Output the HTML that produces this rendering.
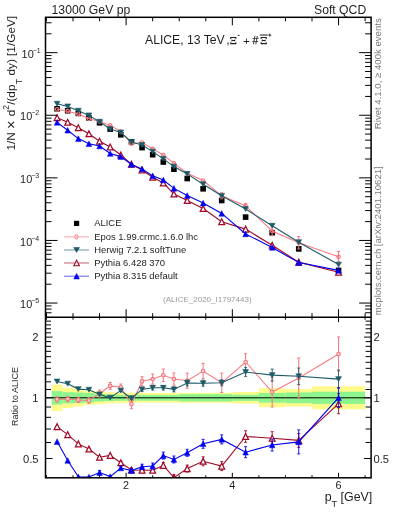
<!DOCTYPE html>
<html><head><meta charset="utf-8"><style>
html,body{margin:0;padding:0;background:#fff;width:393px;height:512px;overflow:hidden}
svg{display:block}
text{font-family:"Liberation Sans",sans-serif}
</style></head><body>
<svg width="393" height="512" viewBox="0 0 393 512">
<defs><clipPath id="cu"><rect x="45.5" y="17.3" width="325.6" height="299.9"/></clipPath><clipPath id="cr"><rect x="45.5" y="317.2" width="325.6" height="160.60000000000002"/></clipPath></defs><g clip-path="url(#cr)"><rect x="51.77" y="384.60" width="10.62" height="26.40" fill="#fffa8c"/><rect x="62.39" y="387.60" width="10.62" height="20.40" fill="#fffa8c"/><rect x="73.01" y="389.00" width="10.62" height="17.60" fill="#fffa8c"/><rect x="83.63" y="390.70" width="10.62" height="14.20" fill="#fffa8c"/><rect x="94.25" y="391.40" width="10.62" height="12.80" fill="#fffa8c"/><rect x="104.88" y="392.20" width="10.62" height="11.20" fill="#fffa8c"/><rect x="115.50" y="392.60" width="10.62" height="10.40" fill="#fffa8c"/><rect x="126.12" y="392.80" width="10.62" height="10.00" fill="#fffa8c"/><rect x="136.74" y="392.90" width="10.62" height="9.80" fill="#fffa8c"/><rect x="147.36" y="392.90" width="10.62" height="9.80" fill="#fffa8c"/><rect x="157.99" y="392.90" width="10.62" height="9.80" fill="#fffa8c"/><rect x="168.61" y="392.90" width="10.62" height="9.80" fill="#fffa8c"/><rect x="179.23" y="392.80" width="15.93" height="10.00" fill="#fffa8c"/><rect x="195.16" y="392.80" width="15.93" height="10.00" fill="#fffa8c"/><rect x="211.10" y="392.80" width="21.24" height="10.00" fill="#fffa8c"/><rect x="232.34" y="392.00" width="26.56" height="11.60" fill="#fffa8c"/><rect x="258.90" y="388.30" width="26.55" height="19.00" fill="#fffa8c"/><rect x="285.45" y="389.00" width="26.56" height="17.60" fill="#fffa8c"/><rect x="312.01" y="386.30" width="53.11" height="23.00" fill="#fffa8c"/><rect x="51.77" y="391.10" width="10.62" height="13.40" fill="#8ef48e"/><rect x="62.39" y="392.20" width="10.62" height="11.20" fill="#8ef48e"/><rect x="73.01" y="392.50" width="10.62" height="10.60" fill="#8ef48e"/><rect x="83.63" y="393.00" width="10.62" height="9.60" fill="#8ef48e"/><rect x="94.25" y="394.10" width="10.62" height="7.40" fill="#8ef48e"/><rect x="104.88" y="394.50" width="10.62" height="6.60" fill="#8ef48e"/><rect x="115.50" y="394.80" width="10.62" height="6.00" fill="#8ef48e"/><rect x="126.12" y="394.90" width="10.62" height="5.80" fill="#8ef48e"/><rect x="136.74" y="394.90" width="10.62" height="5.80" fill="#8ef48e"/><rect x="147.36" y="394.90" width="10.62" height="5.80" fill="#8ef48e"/><rect x="157.99" y="394.90" width="10.62" height="5.80" fill="#8ef48e"/><rect x="168.61" y="394.90" width="10.62" height="5.80" fill="#8ef48e"/><rect x="179.23" y="394.10" width="15.93" height="7.40" fill="#8ef48e"/><rect x="195.16" y="394.10" width="15.93" height="7.40" fill="#8ef48e"/><rect x="211.10" y="394.10" width="21.24" height="7.40" fill="#8ef48e"/><rect x="232.34" y="394.70" width="26.56" height="6.20" fill="#8ef48e"/><rect x="258.90" y="392.90" width="26.55" height="9.80" fill="#8ef48e"/><rect x="285.45" y="392.40" width="26.56" height="10.80" fill="#8ef48e"/><rect x="312.01" y="391.70" width="53.11" height="12.20" fill="#8ef48e"/><line x1="45.5" y1="397.8" x2="371.1" y2="397.8" stroke="#000" stroke-width="1.0"/></g><g clip-path="url(#cr)"><path d="M57.08 399.40 L67.70 399.00 L78.32 399.90 L88.94 400.50 L99.57 393.50 L110.19 385.90 L120.81 387.20 L131.43 404.20 L142.05 381.30 L152.68 379.10 L163.30 375.20 L173.92 379.10 L187.20 380.70 L203.13 371.00 L221.72 382.80 L245.62 362.00 L272.17 392.00 L298.73 378.00 L338.56 354.00" fill="none" stroke="#f87b82" stroke-width="1.05"/><path d="M57.08 396.80V402.00M55.58 396.80H58.58M55.58 402.00H58.58" stroke="#f8747c" stroke-width="1.0" fill="none"/><path d="M67.70 396.40V401.60M66.20 396.40H69.20M66.20 401.60H69.20" stroke="#f8747c" stroke-width="1.0" fill="none"/><path d="M78.32 397.30V402.50M76.82 397.30H79.82M76.82 402.50H79.82" stroke="#f8747c" stroke-width="1.0" fill="none"/><path d="M88.94 397.70V403.30M87.44 397.70H90.44M87.44 403.30H90.44" stroke="#f8747c" stroke-width="1.0" fill="none"/><path d="M99.57 390.00V397.00M98.07 390.00H101.07M98.07 397.00H101.07" stroke="#f8747c" stroke-width="1.0" fill="none"/><path d="M110.19 382.50V389.30M108.69 382.50H111.69M108.69 389.30H111.69" stroke="#f8747c" stroke-width="1.0" fill="none"/><path d="M120.81 384.00V390.40M119.31 384.00H122.31M119.31 390.40H122.31" stroke="#f8747c" stroke-width="1.0" fill="none"/><path d="M131.43 399.70V408.70M129.93 399.70H132.93M129.93 408.70H132.93" stroke="#f8747c" stroke-width="1.0" fill="none"/><path d="M142.05 376.70V385.90M140.55 376.70H143.55M140.55 385.90H143.55" stroke="#f8747c" stroke-width="1.0" fill="none"/><path d="M152.68 374.10V384.10M151.18 374.10H154.18M151.18 384.10H154.18" stroke="#f8747c" stroke-width="1.0" fill="none"/><path d="M163.30 369.00V381.40M161.80 369.00H164.80M161.80 381.40H164.80" stroke="#f8747c" stroke-width="1.0" fill="none"/><path d="M173.92 373.00V385.20M172.42 373.00H175.42M172.42 385.20H175.42" stroke="#f8747c" stroke-width="1.0" fill="none"/><path d="M187.20 373.10V388.30M185.70 373.10H188.70M185.70 388.30H188.70" stroke="#f8747c" stroke-width="1.0" fill="none"/><path d="M203.13 363.40V378.60M201.63 363.40H204.63M201.63 378.60H204.63" stroke="#f8747c" stroke-width="1.0" fill="none"/><path d="M221.72 373.10V392.50M220.22 373.10H223.22M220.22 392.50H223.22" stroke="#f8747c" stroke-width="1.0" fill="none"/><path d="M245.62 353.70V370.30M244.12 353.70H247.12M244.12 370.30H247.12" stroke="#f8747c" stroke-width="1.0" fill="none"/><path d="M272.17 377.00V407.00M270.67 377.00H273.67M270.67 407.00H273.67" stroke="#f8747c" stroke-width="1.0" fill="none"/><path d="M298.73 358.00V398.00M297.23 358.00H300.23M297.23 398.00H300.23" stroke="#f8747c" stroke-width="1.0" fill="none"/><path d="M338.56 337.00V371.00M337.06 337.00H340.06M337.06 371.00H340.06" stroke="#f8747c" stroke-width="1.0" fill="none"/><circle cx="57.08" cy="399.40" r="1.75" fill="#fdd4d6" stroke="#f8747c" stroke-width="1.15"/><circle cx="67.70" cy="399.00" r="1.75" fill="#fdd4d6" stroke="#f8747c" stroke-width="1.15"/><circle cx="78.32" cy="399.90" r="1.75" fill="#fdd4d6" stroke="#f8747c" stroke-width="1.15"/><circle cx="88.94" cy="400.50" r="1.75" fill="#fdd4d6" stroke="#f8747c" stroke-width="1.15"/><circle cx="99.57" cy="393.50" r="1.75" fill="#fdd4d6" stroke="#f8747c" stroke-width="1.15"/><circle cx="110.19" cy="385.90" r="1.75" fill="#fdd4d6" stroke="#f8747c" stroke-width="1.15"/><circle cx="120.81" cy="387.20" r="1.75" fill="#fdd4d6" stroke="#f8747c" stroke-width="1.15"/><circle cx="131.43" cy="404.20" r="1.75" fill="#fdd4d6" stroke="#f8747c" stroke-width="1.15"/><circle cx="142.05" cy="381.30" r="1.75" fill="#fdd4d6" stroke="#f8747c" stroke-width="1.15"/><circle cx="152.68" cy="379.10" r="1.75" fill="#fdd4d6" stroke="#f8747c" stroke-width="1.15"/><circle cx="163.30" cy="375.20" r="1.75" fill="#fdd4d6" stroke="#f8747c" stroke-width="1.15"/><circle cx="173.92" cy="379.10" r="1.75" fill="#fdd4d6" stroke="#f8747c" stroke-width="1.15"/><circle cx="187.20" cy="380.70" r="1.75" fill="#fdd4d6" stroke="#f8747c" stroke-width="1.15"/><circle cx="203.13" cy="371.00" r="1.75" fill="#fdd4d6" stroke="#f8747c" stroke-width="1.15"/><circle cx="221.72" cy="382.80" r="1.75" fill="#fdd4d6" stroke="#f8747c" stroke-width="1.15"/><circle cx="245.62" cy="362.00" r="1.75" fill="#fdd4d6" stroke="#f8747c" stroke-width="1.15"/><circle cx="272.17" cy="392.00" r="1.75" fill="#fdd4d6" stroke="#f8747c" stroke-width="1.15"/><circle cx="298.73" cy="378.00" r="1.75" fill="#fdd4d6" stroke="#f8747c" stroke-width="1.15"/><circle cx="338.56" cy="354.00" r="1.75" fill="#fdd4d6" stroke="#f8747c" stroke-width="1.15"/><path d="M57.08 381.50 L67.70 383.70 L78.32 389.10 L88.94 389.70 L99.57 394.40 L110.19 397.70 L120.81 390.60 L131.43 398.20 L142.05 389.40 L152.68 387.80 L163.30 387.80 L173.92 389.40 L187.20 383.00 L203.13 383.20 L221.72 382.80 L245.62 372.00 L272.17 375.10 L298.73 376.30 L338.56 379.10" fill="none" stroke="#1d5b68" stroke-width="1.1"/><path d="M131.43 396.70V399.70M129.93 396.70H132.93M129.93 399.70H132.93" stroke="#1d5b68" stroke-width="0.9" fill="none"/><path d="M142.05 387.20V391.60M140.55 387.20H143.55M140.55 391.60H143.55" stroke="#1d5b68" stroke-width="0.9" fill="none"/><path d="M152.68 385.60V390.00M151.18 385.60H154.18M151.18 390.00H154.18" stroke="#1d5b68" stroke-width="0.9" fill="none"/><path d="M163.30 385.60V390.00M161.80 385.60H164.80M161.80 390.00H164.80" stroke="#1d5b68" stroke-width="0.9" fill="none"/><path d="M173.92 386.90V391.90M172.42 386.90H175.42M172.42 391.90H175.42" stroke="#1d5b68" stroke-width="0.9" fill="none"/><path d="M187.20 380.00V386.00M185.70 380.00H188.70M185.70 386.00H188.70" stroke="#1d5b68" stroke-width="0.9" fill="none"/><path d="M203.13 380.20V386.20M201.63 380.20H204.63M201.63 386.20H204.63" stroke="#1d5b68" stroke-width="0.9" fill="none"/><path d="M221.72 379.80V385.80M220.22 379.80H223.22M220.22 385.80H223.22" stroke="#1d5b68" stroke-width="0.9" fill="none"/><path d="M245.62 367.60V376.40M244.12 367.60H247.12M244.12 376.40H247.12" stroke="#1d5b68" stroke-width="0.9" fill="none"/><path d="M272.17 369.10V381.10M270.67 369.10H273.67M270.67 381.10H273.67" stroke="#1d5b68" stroke-width="0.9" fill="none"/><path d="M298.73 368.00V384.60M297.23 368.00H300.23M297.23 384.60H300.23" stroke="#1d5b68" stroke-width="0.9" fill="none"/><path d="M338.56 370.10V388.10M337.06 370.10H340.06M337.06 388.10H340.06" stroke="#1d5b68" stroke-width="0.9" fill="none"/><path d="M54.18 379.04L59.98 379.04L57.08 383.96Z" fill="#1d5b68" stroke="#1d5b68" stroke-width="0.6"/><path d="M64.80 381.24L70.60 381.24L67.70 386.16Z" fill="#1d5b68" stroke="#1d5b68" stroke-width="0.6"/><path d="M75.42 386.64L81.22 386.64L78.32 391.56Z" fill="#1d5b68" stroke="#1d5b68" stroke-width="0.6"/><path d="M86.04 387.24L91.84 387.24L88.94 392.16Z" fill="#1d5b68" stroke="#1d5b68" stroke-width="0.6"/><path d="M96.67 391.94L102.47 391.94L99.57 396.86Z" fill="#1d5b68" stroke="#1d5b68" stroke-width="0.6"/><path d="M107.29 395.24L113.09 395.24L110.19 400.16Z" fill="#1d5b68" stroke="#1d5b68" stroke-width="0.6"/><path d="M117.91 388.14L123.71 388.14L120.81 393.06Z" fill="#1d5b68" stroke="#1d5b68" stroke-width="0.6"/><path d="M128.53 395.74L134.33 395.74L131.43 400.66Z" fill="#1d5b68" stroke="#1d5b68" stroke-width="0.6"/><path d="M139.15 386.94L144.95 386.94L142.05 391.86Z" fill="#1d5b68" stroke="#1d5b68" stroke-width="0.6"/><path d="M149.78 385.34L155.58 385.34L152.68 390.26Z" fill="#1d5b68" stroke="#1d5b68" stroke-width="0.6"/><path d="M160.40 385.34L166.20 385.34L163.30 390.26Z" fill="#1d5b68" stroke="#1d5b68" stroke-width="0.6"/><path d="M171.02 386.94L176.82 386.94L173.92 391.86Z" fill="#1d5b68" stroke="#1d5b68" stroke-width="0.6"/><path d="M184.30 380.54L190.10 380.54L187.20 385.46Z" fill="#1d5b68" stroke="#1d5b68" stroke-width="0.6"/><path d="M200.23 380.74L206.03 380.74L203.13 385.66Z" fill="#1d5b68" stroke="#1d5b68" stroke-width="0.6"/><path d="M218.82 380.34L224.62 380.34L221.72 385.26Z" fill="#1d5b68" stroke="#1d5b68" stroke-width="0.6"/><path d="M242.72 369.54L248.52 369.54L245.62 374.46Z" fill="#1d5b68" stroke="#1d5b68" stroke-width="0.6"/><path d="M269.27 372.64L275.07 372.64L272.17 377.56Z" fill="#1d5b68" stroke="#1d5b68" stroke-width="0.6"/><path d="M295.83 373.84L301.63 373.84L298.73 378.76Z" fill="#1d5b68" stroke="#1d5b68" stroke-width="0.6"/><path d="M335.66 376.64L341.46 376.64L338.56 381.56Z" fill="#1d5b68" stroke="#1d5b68" stroke-width="0.6"/><path d="M57.08 426.60 L67.70 434.60 L78.32 443.90 L88.94 449.00 L99.57 457.20 L110.19 455.40 L120.81 462.80 L131.43 470.00 L142.05 470.20 L152.68 470.20 L163.30 465.40 L173.92 477.60 L187.20 468.60 L203.13 461.30 L221.72 466.10 L245.62 436.50 L272.17 438.20 L298.73 440.40 L338.56 403.70" fill="none" stroke="#a00a28" stroke-width="1.1"/><path d="M120.81 461.30V464.30M119.31 461.30H122.31M119.31 464.30H122.31" stroke="#a00a28" stroke-width="0.9" fill="none"/><path d="M131.43 468.00V472.00M129.93 468.00H132.93M129.93 472.00H132.93" stroke="#a00a28" stroke-width="0.9" fill="none"/><path d="M142.05 467.70V472.70M140.55 467.70H143.55M140.55 472.70H143.55" stroke="#a00a28" stroke-width="0.9" fill="none"/><path d="M152.68 467.70V472.70M151.18 467.70H154.18M151.18 472.70H154.18" stroke="#a00a28" stroke-width="0.9" fill="none"/><path d="M163.30 462.40V468.40M161.80 462.40H164.80M161.80 468.40H164.80" stroke="#a00a28" stroke-width="0.9" fill="none"/><path d="M173.92 474.60V480.60M172.42 474.60H175.42M172.42 480.60H175.42" stroke="#a00a28" stroke-width="0.9" fill="none"/><path d="M187.20 465.10V472.10M185.70 465.10H188.70M185.70 472.10H188.70" stroke="#a00a28" stroke-width="0.9" fill="none"/><path d="M203.13 456.80V465.80M201.63 456.80H204.63M201.63 465.80H204.63" stroke="#a00a28" stroke-width="0.9" fill="none"/><path d="M221.72 461.60V470.60M220.22 461.60H223.22M220.22 470.60H223.22" stroke="#a00a28" stroke-width="0.9" fill="none"/><path d="M245.62 430.70V442.30M244.12 430.70H247.12M244.12 442.30H247.12" stroke="#a00a28" stroke-width="0.9" fill="none"/><path d="M272.17 431.70V444.70M270.67 431.70H273.67M270.67 444.70H273.67" stroke="#a00a28" stroke-width="0.9" fill="none"/><path d="M298.73 433.40V447.40M297.23 433.40H300.23M297.23 447.40H300.23" stroke="#a00a28" stroke-width="0.9" fill="none"/><path d="M338.56 393.70V413.70M337.06 393.70H340.06M337.06 413.70H340.06" stroke="#a00a28" stroke-width="0.9" fill="none"/><path d="M54.18 429.50L59.98 429.50L57.08 423.70Z" fill="#fff" stroke="#a00a28" stroke-width="1.25"/><path d="M64.80 437.50L70.60 437.50L67.70 431.70Z" fill="#fff" stroke="#a00a28" stroke-width="1.25"/><path d="M75.42 446.80L81.22 446.80L78.32 441.00Z" fill="#fff" stroke="#a00a28" stroke-width="1.25"/><path d="M86.04 451.90L91.84 451.90L88.94 446.10Z" fill="#fff" stroke="#a00a28" stroke-width="1.25"/><path d="M96.67 460.10L102.47 460.10L99.57 454.30Z" fill="#fff" stroke="#a00a28" stroke-width="1.25"/><path d="M107.29 458.30L113.09 458.30L110.19 452.50Z" fill="#fff" stroke="#a00a28" stroke-width="1.25"/><path d="M117.91 465.70L123.71 465.70L120.81 459.90Z" fill="#fff" stroke="#a00a28" stroke-width="1.25"/><path d="M128.53 472.90L134.33 472.90L131.43 467.10Z" fill="#fff" stroke="#a00a28" stroke-width="1.25"/><path d="M139.15 473.10L144.95 473.10L142.05 467.30Z" fill="#fff" stroke="#a00a28" stroke-width="1.25"/><path d="M149.78 473.10L155.58 473.10L152.68 467.30Z" fill="#fff" stroke="#a00a28" stroke-width="1.25"/><path d="M160.40 468.30L166.20 468.30L163.30 462.50Z" fill="#fff" stroke="#a00a28" stroke-width="1.25"/><path d="M171.02 480.50L176.82 480.50L173.92 474.70Z" fill="#fff" stroke="#a00a28" stroke-width="1.25"/><path d="M184.30 471.50L190.10 471.50L187.20 465.70Z" fill="#fff" stroke="#a00a28" stroke-width="1.25"/><path d="M200.23 464.20L206.03 464.20L203.13 458.40Z" fill="#fff" stroke="#a00a28" stroke-width="1.25"/><path d="M218.82 469.00L224.62 469.00L221.72 463.20Z" fill="#fff" stroke="#a00a28" stroke-width="1.25"/><path d="M242.72 439.40L248.52 439.40L245.62 433.60Z" fill="#fff" stroke="#a00a28" stroke-width="1.25"/><path d="M269.27 441.10L275.07 441.10L272.17 435.30Z" fill="#fff" stroke="#a00a28" stroke-width="1.25"/><path d="M295.83 443.30L301.63 443.30L298.73 437.50Z" fill="#fff" stroke="#a00a28" stroke-width="1.25"/><path d="M335.66 406.60L341.46 406.60L338.56 400.80Z" fill="#fff" stroke="#a00a28" stroke-width="1.25"/><path d="M57.08 441.60 L67.70 460.50 L78.32 476.80 L88.94 477.00 L99.57 472.60 L110.19 476.60 L120.81 468.00 L131.43 470.60 L142.05 466.70 L152.68 466.00 L163.30 455.60 L173.92 459.50 L187.20 452.80 L203.13 443.80 L221.72 439.40 L245.62 452.20 L272.17 445.00 L298.73 441.90 L338.56 397.70" fill="none" stroke="#0000f0" stroke-width="1.1"/><path d="M99.57 470.60V474.60M98.07 470.60H101.07M98.07 474.60H101.07" stroke="#0000f0" stroke-width="0.9" fill="none"/><path d="M120.81 466.50V469.50M119.31 466.50H122.31M119.31 469.50H122.31" stroke="#0000f0" stroke-width="0.9" fill="none"/><path d="M131.43 468.60V472.60M129.93 468.60H132.93M129.93 472.60H132.93" stroke="#0000f0" stroke-width="0.9" fill="none"/><path d="M142.05 464.20V469.20M140.55 464.20H143.55M140.55 469.20H143.55" stroke="#0000f0" stroke-width="0.9" fill="none"/><path d="M152.68 463.00V469.00M151.18 463.00H154.18M151.18 469.00H154.18" stroke="#0000f0" stroke-width="0.9" fill="none"/><path d="M163.30 452.10V459.10M161.80 452.10H164.80M161.80 459.10H164.80" stroke="#0000f0" stroke-width="0.9" fill="none"/><path d="M173.92 456.00V463.00M172.42 456.00H175.42M172.42 463.00H175.42" stroke="#0000f0" stroke-width="0.9" fill="none"/><path d="M187.20 449.30V456.30M185.70 449.30H188.70M185.70 456.30H188.70" stroke="#0000f0" stroke-width="0.9" fill="none"/><path d="M203.13 439.30V448.30M201.63 439.30H204.63M201.63 448.30H204.63" stroke="#0000f0" stroke-width="0.9" fill="none"/><path d="M221.72 434.90V443.90M220.22 434.90H223.22M220.22 443.90H223.22" stroke="#0000f0" stroke-width="0.9" fill="none"/><path d="M245.62 446.70V457.70M244.12 446.70H247.12M244.12 457.70H247.12" stroke="#0000f0" stroke-width="0.9" fill="none"/><path d="M272.17 439.00V451.00M270.67 439.00H273.67M270.67 451.00H273.67" stroke="#0000f0" stroke-width="0.9" fill="none"/><path d="M298.73 429.90V453.90M297.23 429.90H300.23M297.23 453.90H300.23" stroke="#0000f0" stroke-width="0.9" fill="none"/><path d="M338.56 387.70V407.70M337.06 387.70H340.06M337.06 407.70H340.06" stroke="#0000f0" stroke-width="0.9" fill="none"/><path d="M54.28 444.40L59.88 444.40L57.08 438.80Z" fill="#0000f0" stroke="#0000f0" stroke-width="0.5"/><path d="M64.90 463.30L70.50 463.30L67.70 457.70Z" fill="#0000f0" stroke="#0000f0" stroke-width="0.5"/><path d="M75.52 479.60L81.12 479.60L78.32 474.00Z" fill="#0000f0" stroke="#0000f0" stroke-width="0.5"/><path d="M86.14 479.80L91.74 479.80L88.94 474.20Z" fill="#0000f0" stroke="#0000f0" stroke-width="0.5"/><path d="M96.77 475.40L102.37 475.40L99.57 469.80Z" fill="#0000f0" stroke="#0000f0" stroke-width="0.5"/><path d="M107.39 479.40L112.99 479.40L110.19 473.80Z" fill="#0000f0" stroke="#0000f0" stroke-width="0.5"/><path d="M118.01 470.80L123.61 470.80L120.81 465.20Z" fill="#0000f0" stroke="#0000f0" stroke-width="0.5"/><path d="M128.63 473.40L134.23 473.40L131.43 467.80Z" fill="#0000f0" stroke="#0000f0" stroke-width="0.5"/><path d="M139.25 469.50L144.85 469.50L142.05 463.90Z" fill="#0000f0" stroke="#0000f0" stroke-width="0.5"/><path d="M149.88 468.80L155.48 468.80L152.68 463.20Z" fill="#0000f0" stroke="#0000f0" stroke-width="0.5"/><path d="M160.50 458.40L166.10 458.40L163.30 452.80Z" fill="#0000f0" stroke="#0000f0" stroke-width="0.5"/><path d="M171.12 462.30L176.72 462.30L173.92 456.70Z" fill="#0000f0" stroke="#0000f0" stroke-width="0.5"/><path d="M184.40 455.60L190.00 455.60L187.20 450.00Z" fill="#0000f0" stroke="#0000f0" stroke-width="0.5"/><path d="M200.33 446.60L205.93 446.60L203.13 441.00Z" fill="#0000f0" stroke="#0000f0" stroke-width="0.5"/><path d="M218.92 442.20L224.52 442.20L221.72 436.60Z" fill="#0000f0" stroke="#0000f0" stroke-width="0.5"/><path d="M242.82 455.00L248.42 455.00L245.62 449.40Z" fill="#0000f0" stroke="#0000f0" stroke-width="0.5"/><path d="M269.37 447.80L274.97 447.80L272.17 442.20Z" fill="#0000f0" stroke="#0000f0" stroke-width="0.5"/><path d="M295.93 444.70L301.53 444.70L298.73 439.10Z" fill="#0000f0" stroke="#0000f0" stroke-width="0.5"/><path d="M335.76 400.50L341.36 400.50L338.56 394.90Z" fill="#0000f0" stroke="#0000f0" stroke-width="0.5"/></g><g clip-path="url(#cu)"><rect x="54.28" y="106.00" width="5.6" height="5.6" fill="#000"/><rect x="64.90" y="108.00" width="5.6" height="5.6" fill="#000"/><rect x="75.52" y="110.60" width="5.6" height="5.6" fill="#000"/><rect x="86.14" y="115.10" width="5.6" height="5.6" fill="#000"/><rect x="96.77" y="120.00" width="5.6" height="5.6" fill="#000"/><rect x="107.39" y="126.30" width="5.6" height="5.6" fill="#000"/><rect x="118.01" y="132.00" width="5.6" height="5.6" fill="#000"/><rect x="128.63" y="139.00" width="5.6" height="5.6" fill="#000"/><rect x="139.25" y="144.80" width="5.6" height="5.6" fill="#000"/><rect x="149.88" y="151.90" width="5.6" height="5.6" fill="#000"/><rect x="160.50" y="159.20" width="5.6" height="5.6" fill="#000"/><rect x="171.12" y="166.40" width="5.6" height="5.6" fill="#000"/><rect x="184.40" y="175.70" width="5.6" height="5.6" fill="#000"/><rect x="200.33" y="186.00" width="5.6" height="5.6" fill="#000"/><rect x="218.92" y="197.70" width="5.6" height="5.6" fill="#000"/><rect x="242.82" y="214.30" width="5.6" height="5.6" fill="#000"/><rect x="269.37" y="230.00" width="5.6" height="5.6" fill="#000"/><rect x="295.93" y="246.10" width="5.6" height="5.6" fill="#000"/><rect x="335.76" y="267.60" width="5.6" height="5.6" fill="#000"/><path d="M57.08 109.30 L67.70 111.17 L78.32 114.05 L88.94 118.74 L99.57 121.46 L110.19 125.40 L120.81 131.51 L131.43 143.79 L142.05 142.48 L152.68 148.89 L163.30 154.98 L173.92 163.39 L187.20 173.19 L203.13 180.48 L221.72 195.84 L245.62 205.98 L272.17 231.00 L298.73 242.75 L338.56 256.80" fill="none" stroke="#f87b82" stroke-width="1.05"/><path d="M221.72 192.83V198.85M220.22 192.83H223.22M220.22 198.85H223.22" stroke="#f8747c" stroke-width="1.0" fill="none"/><path d="M245.62 203.41V208.56M244.12 203.41H247.12M244.12 208.56H247.12" stroke="#f8747c" stroke-width="1.0" fill="none"/><path d="M272.17 226.34V235.66M270.67 226.34H273.67M270.67 235.66H273.67" stroke="#f8747c" stroke-width="1.0" fill="none"/><path d="M298.73 236.54V248.96M297.23 236.54H300.23M297.23 248.96H300.23" stroke="#f8747c" stroke-width="1.0" fill="none"/><path d="M338.56 251.52V262.08M337.06 251.52H340.06M337.06 262.08H340.06" stroke="#f8747c" stroke-width="1.0" fill="none"/><circle cx="57.08" cy="109.30" r="1.75" fill="none" stroke="#f8747c" stroke-width="1.15"/><circle cx="67.70" cy="111.17" r="1.75" fill="none" stroke="#f8747c" stroke-width="1.15"/><circle cx="78.32" cy="114.05" r="1.75" fill="none" stroke="#f8747c" stroke-width="1.15"/><circle cx="88.94" cy="118.74" r="1.75" fill="none" stroke="#f8747c" stroke-width="1.15"/><circle cx="99.57" cy="121.46" r="1.75" fill="none" stroke="#f8747c" stroke-width="1.15"/><circle cx="110.19" cy="125.40" r="1.75" fill="none" stroke="#f8747c" stroke-width="1.15"/><circle cx="120.81" cy="131.51" r="1.75" fill="none" stroke="#f8747c" stroke-width="1.15"/><circle cx="131.43" cy="143.79" r="1.75" fill="none" stroke="#f8747c" stroke-width="1.15"/><circle cx="142.05" cy="142.48" r="1.75" fill="none" stroke="#f8747c" stroke-width="1.15"/><circle cx="152.68" cy="148.89" r="1.75" fill="none" stroke="#f8747c" stroke-width="1.15"/><circle cx="163.30" cy="154.98" r="1.75" fill="none" stroke="#f8747c" stroke-width="1.15"/><circle cx="173.92" cy="163.39" r="1.75" fill="none" stroke="#f8747c" stroke-width="1.15"/><circle cx="187.20" cy="173.19" r="1.75" fill="none" stroke="#f8747c" stroke-width="1.15"/><circle cx="203.13" cy="180.48" r="1.75" fill="none" stroke="#f8747c" stroke-width="1.15"/><circle cx="221.72" cy="195.84" r="1.75" fill="none" stroke="#f8747c" stroke-width="1.15"/><circle cx="245.62" cy="205.98" r="1.75" fill="none" stroke="#f8747c" stroke-width="1.15"/><circle cx="272.17" cy="231.00" r="1.75" fill="none" stroke="#f8747c" stroke-width="1.15"/><circle cx="298.73" cy="242.75" r="1.75" fill="none" stroke="#f8747c" stroke-width="1.15"/><circle cx="338.56" cy="256.80" r="1.75" fill="none" stroke="#f8747c" stroke-width="1.15"/><path d="M57.08 103.74 L67.70 106.42 L78.32 110.70 L88.94 115.38 L99.57 121.74 L110.19 129.07 L120.81 132.56 L131.43 141.92 L142.05 144.99 L152.68 151.59 L163.30 158.89 L173.92 166.59 L187.20 173.90 L203.13 184.27 L221.72 195.84 L245.62 209.09 L272.17 225.75 L298.73 242.22 L338.56 264.59" fill="none" stroke="#1d5b68" stroke-width="1.1"/><path d="M54.18 101.27L59.98 101.27L57.08 106.20Z" fill="#1d5b68" stroke="#1d5b68" stroke-width="0.6"/><path d="M64.80 103.96L70.60 103.96L67.70 108.89Z" fill="#1d5b68" stroke="#1d5b68" stroke-width="0.6"/><path d="M75.42 108.23L81.22 108.23L78.32 113.16Z" fill="#1d5b68" stroke="#1d5b68" stroke-width="0.6"/><path d="M86.04 112.92L91.84 112.92L88.94 117.85Z" fill="#1d5b68" stroke="#1d5b68" stroke-width="0.6"/><path d="M96.67 119.28L102.47 119.28L99.57 124.21Z" fill="#1d5b68" stroke="#1d5b68" stroke-width="0.6"/><path d="M107.29 126.60L113.09 126.60L110.19 131.53Z" fill="#1d5b68" stroke="#1d5b68" stroke-width="0.6"/><path d="M117.91 130.10L123.71 130.10L120.81 135.03Z" fill="#1d5b68" stroke="#1d5b68" stroke-width="0.6"/><path d="M128.53 139.46L134.33 139.46L131.43 144.39Z" fill="#1d5b68" stroke="#1d5b68" stroke-width="0.6"/><path d="M139.15 142.53L144.95 142.53L142.05 147.46Z" fill="#1d5b68" stroke="#1d5b68" stroke-width="0.6"/><path d="M149.78 149.13L155.58 149.13L152.68 154.06Z" fill="#1d5b68" stroke="#1d5b68" stroke-width="0.6"/><path d="M160.40 156.43L166.20 156.43L163.30 161.36Z" fill="#1d5b68" stroke="#1d5b68" stroke-width="0.6"/><path d="M171.02 164.13L176.82 164.13L173.92 169.06Z" fill="#1d5b68" stroke="#1d5b68" stroke-width="0.6"/><path d="M184.30 171.44L190.10 171.44L187.20 176.37Z" fill="#1d5b68" stroke="#1d5b68" stroke-width="0.6"/><path d="M200.23 181.80L206.03 181.80L203.13 186.73Z" fill="#1d5b68" stroke="#1d5b68" stroke-width="0.6"/><path d="M218.82 193.38L224.62 193.38L221.72 198.31Z" fill="#1d5b68" stroke="#1d5b68" stroke-width="0.6"/><path d="M242.72 206.62L248.52 206.62L245.62 211.55Z" fill="#1d5b68" stroke="#1d5b68" stroke-width="0.6"/><path d="M269.27 223.29L275.07 223.29L272.17 228.22Z" fill="#1d5b68" stroke="#1d5b68" stroke-width="0.6"/><path d="M295.83 239.76L301.63 239.76L298.73 244.69Z" fill="#1d5b68" stroke="#1d5b68" stroke-width="0.6"/><path d="M335.66 262.13L341.46 262.13L338.56 267.06Z" fill="#1d5b68" stroke="#1d5b68" stroke-width="0.6"/><path d="M57.08 117.74 L67.70 122.23 L78.32 127.71 L88.94 133.80 L99.57 141.24 L110.19 146.99 L120.81 154.98 L131.43 164.22 L142.05 170.08 L152.68 177.18 L163.30 182.99 L173.92 193.98 L187.20 200.48 L203.13 208.52 L221.72 221.71 L245.62 229.12 L272.17 245.34 L298.73 262.13 L338.56 272.23" fill="none" stroke="#a00a28" stroke-width="1.1"/><path d="M54.18 120.64L59.98 120.64L57.08 114.84Z" fill="#fff" stroke="#a00a28" stroke-width="1.25"/><path d="M64.80 125.13L70.60 125.13L67.70 119.33Z" fill="#fff" stroke="#a00a28" stroke-width="1.25"/><path d="M75.42 130.61L81.22 130.61L78.32 124.81Z" fill="#fff" stroke="#a00a28" stroke-width="1.25"/><path d="M86.04 136.70L91.84 136.70L88.94 130.90Z" fill="#fff" stroke="#a00a28" stroke-width="1.25"/><path d="M96.67 144.14L102.47 144.14L99.57 138.34Z" fill="#fff" stroke="#a00a28" stroke-width="1.25"/><path d="M107.29 149.89L113.09 149.89L110.19 144.09Z" fill="#fff" stroke="#a00a28" stroke-width="1.25"/><path d="M117.91 157.88L123.71 157.88L120.81 152.08Z" fill="#fff" stroke="#a00a28" stroke-width="1.25"/><path d="M128.53 167.12L134.33 167.12L131.43 161.32Z" fill="#fff" stroke="#a00a28" stroke-width="1.25"/><path d="M139.15 172.98L144.95 172.98L142.05 167.18Z" fill="#fff" stroke="#a00a28" stroke-width="1.25"/><path d="M149.78 180.08L155.58 180.08L152.68 174.28Z" fill="#fff" stroke="#a00a28" stroke-width="1.25"/><path d="M160.40 185.89L166.20 185.89L163.30 180.09Z" fill="#fff" stroke="#a00a28" stroke-width="1.25"/><path d="M171.02 196.88L176.82 196.88L173.92 191.08Z" fill="#fff" stroke="#a00a28" stroke-width="1.25"/><path d="M184.30 203.38L190.10 203.38L187.20 197.58Z" fill="#fff" stroke="#a00a28" stroke-width="1.25"/><path d="M200.23 211.42L206.03 211.42L203.13 205.62Z" fill="#fff" stroke="#a00a28" stroke-width="1.25"/><path d="M218.82 224.61L224.62 224.61L221.72 218.81Z" fill="#fff" stroke="#a00a28" stroke-width="1.25"/><path d="M242.72 232.02L248.52 232.02L245.62 226.22Z" fill="#fff" stroke="#a00a28" stroke-width="1.25"/><path d="M269.27 248.24L275.07 248.24L272.17 242.44Z" fill="#fff" stroke="#a00a28" stroke-width="1.25"/><path d="M295.83 265.03L301.63 265.03L298.73 259.23Z" fill="#fff" stroke="#a00a28" stroke-width="1.25"/><path d="M335.66 275.13L341.46 275.13L338.56 269.33Z" fill="#fff" stroke="#a00a28" stroke-width="1.25"/><path d="M57.08 122.40 L67.70 130.27 L78.32 138.60 L88.94 143.70 L99.57 146.03 L110.19 153.50 L120.81 156.60 L131.43 164.41 L142.05 168.99 L152.68 175.88 L163.30 179.95 L173.92 188.36 L187.20 195.58 L203.13 203.08 L221.72 213.42 L245.62 233.99 L272.17 247.46 L298.73 262.59 L338.56 270.37" fill="none" stroke="#0000f0" stroke-width="1.1"/><path d="M54.28 125.20L59.88 125.20L57.08 119.60Z" fill="#0000f0" stroke="#0000f0" stroke-width="0.5"/><path d="M64.90 133.07L70.50 133.07L67.70 127.47Z" fill="#0000f0" stroke="#0000f0" stroke-width="0.5"/><path d="M75.52 141.40L81.12 141.40L78.32 135.80Z" fill="#0000f0" stroke="#0000f0" stroke-width="0.5"/><path d="M86.14 146.50L91.74 146.50L88.94 140.90Z" fill="#0000f0" stroke="#0000f0" stroke-width="0.5"/><path d="M96.77 148.83L102.37 148.83L99.57 143.23Z" fill="#0000f0" stroke="#0000f0" stroke-width="0.5"/><path d="M107.39 156.30L112.99 156.30L110.19 150.70Z" fill="#0000f0" stroke="#0000f0" stroke-width="0.5"/><path d="M118.01 159.40L123.61 159.40L120.81 153.80Z" fill="#0000f0" stroke="#0000f0" stroke-width="0.5"/><path d="M128.63 167.21L134.23 167.21L131.43 161.61Z" fill="#0000f0" stroke="#0000f0" stroke-width="0.5"/><path d="M139.25 171.79L144.85 171.79L142.05 166.19Z" fill="#0000f0" stroke="#0000f0" stroke-width="0.5"/><path d="M149.88 178.68L155.48 178.68L152.68 173.08Z" fill="#0000f0" stroke="#0000f0" stroke-width="0.5"/><path d="M160.50 182.75L166.10 182.75L163.30 177.15Z" fill="#0000f0" stroke="#0000f0" stroke-width="0.5"/><path d="M171.12 191.16L176.72 191.16L173.92 185.56Z" fill="#0000f0" stroke="#0000f0" stroke-width="0.5"/><path d="M184.40 198.38L190.00 198.38L187.20 192.78Z" fill="#0000f0" stroke="#0000f0" stroke-width="0.5"/><path d="M200.33 205.88L205.93 205.88L203.13 200.28Z" fill="#0000f0" stroke="#0000f0" stroke-width="0.5"/><path d="M218.92 216.22L224.52 216.22L221.72 210.62Z" fill="#0000f0" stroke="#0000f0" stroke-width="0.5"/><path d="M242.82 236.79L248.42 236.79L245.62 231.19Z" fill="#0000f0" stroke="#0000f0" stroke-width="0.5"/><path d="M269.37 250.26L274.97 250.26L272.17 244.66Z" fill="#0000f0" stroke="#0000f0" stroke-width="0.5"/><path d="M295.93 265.39L301.53 265.39L298.73 259.79Z" fill="#0000f0" stroke="#0000f0" stroke-width="0.5"/><path d="M335.76 273.17L341.36 273.17L338.56 267.57Z" fill="#0000f0" stroke="#0000f0" stroke-width="0.5"/></g><rect x="45.5" y="17.3" width="325.6" height="460.5" fill="none" stroke="#000" stroke-width="1.5"/><line x1="45.5" y1="317.2" x2="371.1" y2="317.2" stroke="#000" stroke-width="1.5"/><path d="M46.46 17.3v4M46.46 317.2v-4M46.46 317.2v2.5M46.46 477.8v-2.5M73.01 17.3v4M73.01 317.2v-4M73.01 317.2v2.5M73.01 477.8v-2.5M99.57 17.3v4M99.57 317.2v-4M99.57 317.2v2.5M99.57 477.8v-2.5M126.12 17.3v8M126.12 317.2v-8M126.12 317.2v5M126.12 477.8v-5M152.68 17.3v4M152.68 317.2v-4M152.68 317.2v2.5M152.68 477.8v-2.5M179.23 17.3v4M179.23 317.2v-4M179.23 317.2v2.5M179.23 477.8v-2.5M205.79 17.3v4M205.79 317.2v-4M205.79 317.2v2.5M205.79 477.8v-2.5M232.34 17.3v8M232.34 317.2v-8M232.34 317.2v5M232.34 477.8v-5M258.90 17.3v4M258.90 317.2v-4M258.90 317.2v2.5M258.90 477.8v-2.5M285.45 17.3v4M285.45 317.2v-4M285.45 317.2v2.5M285.45 477.8v-2.5M312.01 17.3v4M312.01 317.2v-4M312.01 317.2v2.5M312.01 477.8v-2.5M338.56 17.3v8M338.56 317.2v-8M338.56 317.2v5M338.56 477.8v-5M365.12 17.3v4M365.12 317.2v-4M365.12 317.2v2.5M365.12 477.8v-2.5M45.5 312.75h6M371.1 312.75h-6M45.5 309.12h6M371.1 309.12h-6M45.5 305.91h6M371.1 305.91h-6M45.5 303.05h12M371.1 303.05h-12M45.5 284.21h6M371.1 284.21h-6M45.5 273.18h6M371.1 273.18h-6M45.5 265.36h6M371.1 265.36h-6M45.5 259.29h6M371.1 259.29h-6M45.5 254.34h6M371.1 254.34h-6M45.5 250.15h6M371.1 250.15h-6M45.5 246.52h6M371.1 246.52h-6M45.5 243.31h6M371.1 243.31h-6M45.5 240.45h12M371.1 240.45h-12M45.5 221.61h6M371.1 221.61h-6M45.5 210.58h6M371.1 210.58h-6M45.5 202.76h6M371.1 202.76h-6M45.5 196.69h6M371.1 196.69h-6M45.5 191.74h6M371.1 191.74h-6M45.5 187.55h6M371.1 187.55h-6M45.5 183.92h6M371.1 183.92h-6M45.5 180.71h6M371.1 180.71h-6M45.5 177.85h12M371.1 177.85h-12M45.5 159.01h6M371.1 159.01h-6M45.5 147.98h6M371.1 147.98h-6M45.5 140.16h6M371.1 140.16h-6M45.5 134.09h6M371.1 134.09h-6M45.5 129.14h6M371.1 129.14h-6M45.5 124.95h6M371.1 124.95h-6M45.5 121.32h6M371.1 121.32h-6M45.5 118.11h6M371.1 118.11h-6M45.5 115.25h12M371.1 115.25h-12M45.5 96.41h6M371.1 96.41h-6M45.5 85.38h6M371.1 85.38h-6M45.5 77.56h6M371.1 77.56h-6M45.5 71.49h6M371.1 71.49h-6M45.5 66.54h6M371.1 66.54h-6M45.5 62.35h6M371.1 62.35h-6M45.5 58.72h6M371.1 58.72h-6M45.5 55.51h6M371.1 55.51h-6M45.5 52.65h12M371.1 52.65h-12M45.5 33.81h6M371.1 33.81h-6M45.5 22.78h6M371.1 22.78h-6M45.5 458.49h7M371.1 458.49h-7M45.5 442.52h5.5M371.1 442.52h-5.5M45.5 429.03h5.5M371.1 429.03h-5.5M45.5 417.34h5.5M371.1 417.34h-5.5M45.5 407.02h5.5M371.1 407.02h-5.5M45.5 397.80h7M371.1 397.80h-7M45.5 389.46h5.5M371.1 389.46h-5.5M45.5 381.84h5.5M371.1 381.84h-5.5M45.5 374.83h5.5M371.1 374.83h-5.5M45.5 368.34h5.5M371.1 368.34h-5.5M45.5 362.30h5.5M371.1 362.30h-5.5M45.5 356.65h5.5M371.1 356.65h-5.5M45.5 351.34h5.5M371.1 351.34h-5.5M45.5 346.34h5.5M371.1 346.34h-5.5M45.5 341.60h5.5M371.1 341.60h-5.5M45.5 337.11h7M371.1 337.11h-7M45.5 332.84h5.5M371.1 332.84h-5.5M45.5 328.77h5.5M371.1 328.77h-5.5M45.5 324.88h5.5M371.1 324.88h-5.5M45.5 321.15h5.5M371.1 321.15h-5.5" stroke="#000" stroke-width="1.0" fill="none"/><rect x="74.00" y="220.80" width="5.2" height="5.2" fill="#000"/><line x1="64" y1="236.9" x2="89" y2="236.9" stroke="#f9a6aa" stroke-width="1"/><ellipse cx="76.4" cy="236.9" rx="1.6" ry="2.3" fill="#fcd0d4" stroke="#f98890" stroke-width="1.0"/><line x1="64" y1="250.0" x2="89" y2="250.0" stroke="#6a9aa2" stroke-width="1"/><path d="M73.70 247.53L79.50 247.53L76.60 252.47Z" fill="#1d5b68" stroke="#1d5b68" stroke-width="0.6"/><line x1="64" y1="263.0" x2="89" y2="263.0" stroke="#c86070" stroke-width="1"/><path d="M73.80 265.80L79.40 265.80L76.60 260.20Z" fill="#fff" stroke="#a00a28" stroke-width="1.1"/><line x1="64" y1="276.2" x2="89" y2="276.2" stroke="#6060ff" stroke-width="1"/><path d="M73.80 279.00L79.40 279.00L76.60 273.40Z" fill="#0000f0" stroke="#0000f0" stroke-width="0.5"/><filter id="nf" x="0" y="0" width="393" height="512" filterUnits="userSpaceOnUse"><feOffset dx="0" dy="0"/></filter><g font-family="Liberation Sans, sans-serif" fill="#1e1e1e" filter="url(#nf)"><text x="51.60" y="13.60" font-size="12.2" text-anchor="start" fill="#1e1e1e" >13000 GeV pp</text><text x="366.20" y="13.60" font-size="12.2" text-anchor="end" fill="#1e1e1e" >Soft QCD</text><text x="21.60" y="57.75" font-size="10.9">10</text><text x="32.70" y="52.75" font-size="7.0">&#8722;1</text><text x="20.10" y="120.35" font-size="10.9">10</text><text x="31.20" y="115.35" font-size="7.0">&#8722;2</text><text x="20.10" y="182.95" font-size="10.9">10</text><text x="31.20" y="177.95" font-size="7.0">&#8722;3</text><text x="20.10" y="245.55" font-size="10.9">10</text><text x="31.20" y="240.55" font-size="7.0">&#8722;4</text><text x="20.10" y="308.15" font-size="10.9">10</text><text x="31.20" y="303.15" font-size="7.0">&#8722;5</text><text x="38.60" y="341.21" font-size="11.2" text-anchor="end" fill="#1e1e1e" >2</text><text x="373.50" y="341.21" font-size="11.2" text-anchor="start" fill="#1e1e1e" >2</text><text x="38.60" y="401.90" font-size="11.2" text-anchor="end" fill="#1e1e1e" >1</text><text x="373.50" y="401.90" font-size="11.2" text-anchor="start" fill="#1e1e1e" >1</text><text x="38.60" y="462.59" font-size="11.2" text-anchor="end" fill="#1e1e1e" >0.5</text><text x="373.50" y="462.59" font-size="11.2" text-anchor="start" fill="#1e1e1e" >0.5</text><text x="126.12" y="488.70" font-size="10.8" text-anchor="middle" fill="#1e1e1e" >2</text><text x="232.34" y="488.70" font-size="10.8" text-anchor="middle" fill="#1e1e1e" >4</text><text x="338.56" y="488.70" font-size="10.8" text-anchor="middle" fill="#1e1e1e" >6</text><text x="372.3" y="500.7" font-size="12.4" text-anchor="end">p<tspan font-size="9.2" dy="6.0">T</tspan><tspan dy="-6.0"> [GeV]</tspan></text><text transform="translate(15.4,15.9) rotate(-90)" font-size="11.8" text-anchor="end">1/N <tspan font-size="14.5" dy="0.8">&#215;</tspan><tspan dy="-0.8" dx="1.0"> d</tspan><tspan font-size="8.6" dy="-6.0">2</tspan><tspan dy="6.0">/(dp</tspan><tspan font-size="9.3" dy="6.6">T</tspan><tspan dy="-6.6"> dy) [1/GeV]</tspan></text><text transform="translate(18.3,396.5) rotate(-90)" font-size="9" text-anchor="middle">Ratio to ALICE</text><text transform="translate(380.6,18.3) rotate(-90)" font-size="9.6" text-anchor="end" fill="#7a7a7a">Rivet 4.1.0, &#8805; 400k events</text><text transform="translate(380.6,166.4) rotate(-90)" font-size="9.5" text-anchor="end" fill="#7a7a7a">mcplots.cern.ch [arXiv:2401.10621]</text><text x="145.0" y="44.4" font-size="12.2">ALICE, 13 TeV</text><text x="226.3" y="44.4" font-size="12.2">,</text><path d="M230.20 36.90h6.2v2.0h-1.0v-0.9h-4.20v0.9h-1.0zM231.40 39.90h3.80v1.1h-3.80zM231.40 39.40h0.8v2.1h-0.8zM234.40 39.40h0.8v2.1h-0.8zM230.20 44.20h6.2v-2.0h-1.0v0.9h-4.20v-0.9h-1.0z" fill="#1e1e1e"/><path d="M237.6 35.4h2.0" stroke="#1e1e1e" stroke-width="0.9"/><text x="242.9" y="44.9" font-size="11.6">+</text><text x="252.6" y="44.3" font-size="10.4" stroke="#1e1e1e" stroke-width="0.25">#</text><path d="M260.60 36.90h6.2v2.0h-1.0v-0.9h-4.20v0.9h-1.0zM261.80 39.90h3.80v1.1h-3.80zM261.80 39.40h0.8v2.1h-0.8zM264.80 39.40h0.8v2.1h-0.8zM260.60 44.20h6.2v-2.0h-1.0v0.9h-4.20v-0.9h-1.0z" fill="#1e1e1e"/><line x1="259.9" y1="35.0" x2="267.8" y2="35.0" stroke="#1e1e1e" stroke-width="1.0"/><path d="M268.3 35.1h3.0M269.8 33.6v3.0" stroke="#1e1e1e" stroke-width="0.85"/><text x="207.30" y="301.80" font-size="8" text-anchor="middle" fill="#999" >(ALICE_2020_I1797443)</text><text x="94.20" y="226.40" font-size="9.45" text-anchor="start" fill="#1e1e1e" >ALICE</text><text x="94.20" y="239.90" font-size="9.45" text-anchor="start" fill="#1e1e1e" >Epos 1.99.crmc.1.6.0 lhc</text><text x="94.20" y="253.00" font-size="9.45" text-anchor="start" fill="#1e1e1e" >Herwig 7.2.1 softTune</text><text x="94.20" y="266.00" font-size="9.45" text-anchor="start" fill="#1e1e1e" >Pythia 6.428 370</text><text x="94.20" y="279.20" font-size="9.45" text-anchor="start" fill="#1e1e1e" >Pythia 8.315 default</text></g>
</svg></body></html>
